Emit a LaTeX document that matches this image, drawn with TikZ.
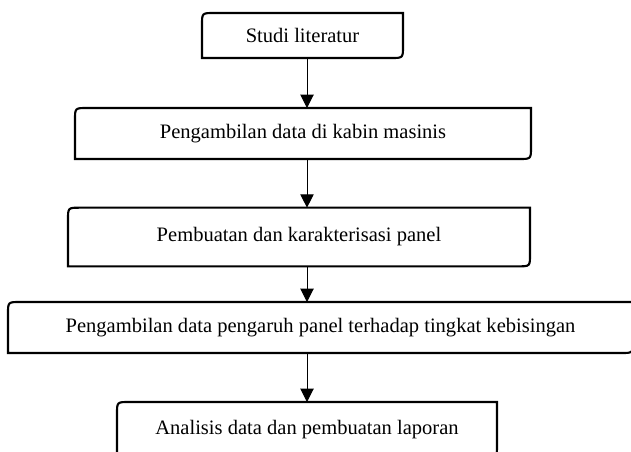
\documentclass[tikz,border=0pt]{standalone}
\usepackage{fontspec}
\setmainfont{Liberation Serif}
\usetikzlibrary{arrows.meta}

\begin{document}
\begin{tikzpicture}[x=0.75pt, y=-0.75pt, >={Triangle[width=10pt,length=10pt]},
	langkah/.style={inner sep=0pt, outer sep=0pt, font=\fontsize{15.4}{18}\selectfont},
	garis/.style={line width=1.6pt},
	panah/.style={->, line width=0.75pt}]

	\useasboundingbox (0,0) rectangle (631,451);

	\node[langkah, minimum width=150.75pt, minimum height=33.75pt] (studi) at (302.5,35.5) {Studi literatur};
	\node[langkah, minimum width=342pt, minimum height=38.25pt] (ambil) at (303,133.5) {Pengambilan data di kabin masinis};
	\node[langkah, minimum width=346.5pt, minimum height=44pt] (panel) at (299,237) {Pembuatan dan karakterisasi panel};
	\node[langkah, minimum width=468.75pt, minimum height=38.25pt] (pengaruh) at (320.5,327.5) {Pengambilan data pengaruh panel terhadap tingkat kebisingan};
	\node[langkah, minimum width=285pt, minimum height=41.25pt] (analisis) at (307,429.5) {Analisis data dan pembuatan laporan};

	\coordinate (tengah) at (307,0);

	% kotak: sudut kiri atas dan kanan bawah membulat
	\foreach \n in {studi,ambil,panel,pengaruh,analisis}
		\draw[garis] (\n.south west) -- ([yshift=-9pt]\n.north west) .. controls (\n.north west) .. ([xshift=9pt]\n.north west)
			-- (\n.north east) -- ([yshift=9pt]\n.south east) .. controls (\n.south east) .. ([xshift=-9pt]\n.south east) -- cycle;

	\draw[panah] (studi.south -| tengah) -- (ambil.north -| tengah);
	\draw[panah] (ambil.south -| tengah) -- (panel.north -| tengah);
	\draw[panah] (panel.south -| tengah) -- (pengaruh.north -| tengah);
	\draw[panah] (pengaruh.south -| tengah) -- (analisis.north -| tengah);

\end{tikzpicture}
\end{document}
